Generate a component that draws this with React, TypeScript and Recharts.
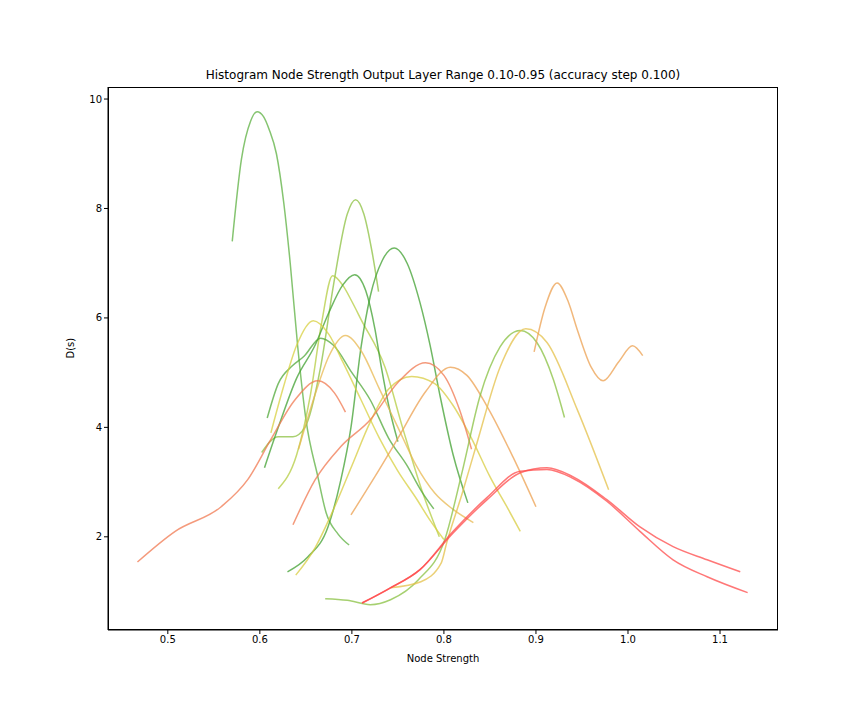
import { LineChart, Line, XAxis, YAxis, Label } from "recharts";

type Pt = { x: number; y: number };
const p = (arr: number[][]): Pt[] => arr.map(([x, y]) => ({ x, y }));

const tallGreen = p([[0.57, 7.4], [0.58, 8.9], [0.59, 9.6], [0.597, 9.77], [0.604, 9.68], [0.61, 9.45], [0.618, 9.0], [0.626, 8.1], [0.633, 7.0], [0.641, 5.5], [0.65, 4.15], [0.663, 3.1], [0.672, 2.44], [0.685, 2.05], [0.697, 1.85]]);
const lightGreen = p([[0.602, 3.54], [0.62, 3.83], [0.636, 3.83], [0.649, 4.0], [0.666, 5.1], [0.68, 6.6], [0.695, 7.9], [0.704, 8.16], [0.713, 7.9], [0.722, 7.2], [0.729, 6.48]]);
const yellowGreen = p([[0.62, 2.88], [0.64, 3.5], [0.655, 4.6], [0.667, 5.9], [0.679, 6.77], [0.69, 6.6], [0.7, 6.3], [0.71, 5.97], [0.736, 5.1], [0.755, 4.0], [0.775, 2.9], [0.795, 2.0]]);
const greenMid = p([[0.605, 3.26], [0.62, 4.0], [0.64, 4.9], [0.66, 5.5], [0.675, 6.1], [0.69, 6.6], [0.703, 6.79], [0.715, 6.5], [0.725, 5.8], [0.732, 5.1], [0.74, 4.4], [0.75, 3.74]]);
const greenTall2 = p([[0.63, 1.36], [0.652, 1.63], [0.674, 2.18], [0.688, 3.04], [0.699, 4.0], [0.71, 5.47], [0.72, 6.4], [0.733, 7.05], [0.746, 7.28], [0.76, 7.0], [0.774, 6.28], [0.785, 5.5], [0.796, 4.56], [0.81, 3.5], [0.826, 2.62]]);
const greenBump = p([[0.608, 4.17], [0.62, 4.8], [0.635, 5.12], [0.648, 5.3], [0.666, 5.63], [0.68, 5.5], [0.7, 5.0], [0.72, 4.5], [0.74, 3.8], [0.76, 3.3], [0.775, 2.85], [0.789, 2.51]]);
const yellowA = p([[0.612, 3.9], [0.625, 4.7], [0.64, 5.5], [0.658, 5.95], [0.675, 5.7], [0.69, 5.2], [0.71, 4.5], [0.73, 3.8], [0.75, 3.2], [0.77, 2.7], [0.785, 2.3], [0.8, 1.95]]);
const yellowB = p([[0.639, 1.3], [0.66, 1.8], [0.68, 2.5], [0.7, 3.3], [0.72, 4.1], [0.74, 4.7], [0.765, 4.93], [0.79, 4.8], [0.81, 4.4], [0.83, 3.8], [0.85, 3.1], [0.87, 2.5], [0.883, 2.1]]);
const tan = p([[0.642, 3.6], [0.66, 4.6], [0.675, 5.3], [0.693, 5.68], [0.71, 5.4], [0.73, 4.7], [0.75, 4.0], [0.77, 3.3], [0.79, 2.8], [0.81, 2.5], [0.832, 2.26]]);
const salmonA = p([[0.467, 1.54], [0.508, 2.1], [0.558, 2.55], [0.587, 3.05], [0.612, 3.78], [0.638, 4.5], [0.663, 4.85], [0.681, 4.63], [0.693, 4.28]]);
const salmonB = p([[0.636, 2.22], [0.66, 3.04], [0.688, 3.65], [0.72, 4.14], [0.75, 4.82], [0.78, 5.18], [0.8, 4.95], [0.817, 4.32], [0.83, 3.6]]);
const orange = p([[0.699, 2.4], [0.725, 3.1], [0.75, 3.8], [0.78, 4.65], [0.807, 5.1], [0.825, 4.95], [0.847, 4.38], [0.875, 3.46], [0.9, 2.55]]);
const greenLate = p([[0.671, 0.87], [0.695, 0.84], [0.72, 0.76], [0.742, 0.85], [0.772, 1.21], [0.801, 1.95], [0.82, 3.2], [0.839, 4.56], [0.861, 5.47], [0.883, 5.77], [0.901, 5.55], [0.919, 4.87], [0.931, 4.18]]);
const goldLate = p([[0.742, 1.07], [0.775, 1.18], [0.797, 1.52], [0.803, 1.89], [0.82, 2.8], [0.836, 3.72], [0.861, 5.1], [0.889, 5.8], [0.912, 5.55], [0.945, 4.32], [0.979, 2.86]]);
const orangeWave = p([[0.898, 5.38], [0.91, 6.2], [0.923, 6.64], [0.935, 6.3], [0.945, 5.78], [0.96, 5.1], [0.973, 4.85], [0.99, 5.2], [1.005, 5.49], [1.016, 5.31]]);
const redA = p([[0.711, 0.79], [0.74, 1.05], [0.774, 1.4], [0.81, 2.07], [0.847, 2.68], [0.883, 3.17], [0.912, 3.26], [0.94, 3.1], [0.977, 2.68], [1.013, 2.18], [1.049, 1.82], [1.086, 1.58], [1.122, 1.36]]);
const redB = p([[0.711, 0.79], [0.74, 1.05], [0.774, 1.4], [0.81, 2.1], [0.847, 2.72], [0.883, 3.2], [0.912, 3.23], [0.94, 3.07], [0.977, 2.65], [1.013, 2.1], [1.049, 1.58], [1.086, 1.27], [1.13, 0.98]]);

const series: [Pt[], string][] = [
  [tallGreen, "#5cb040"], [lightGreen, "#8cc040"], [yellowGreen, "#b4cc40"],
  [greenMid, "#40a030"], [greenTall2, "#40a030"], [greenBump, "#50a838"],
  [yellowA, "#d8d040"], [yellowB, "#d8cc40"], [tan, "#e8b850"],
  [salmonA, "#f07850"], [salmonB, "#f07850"], [orange, "#eca050"],
  [greenLate, "#88c040"], [goldLate, "#e4c048"], [orangeWave, "#eca050"],
  [redA, "#ff4a4a"], [redB, "#ff4a4a"],
];

const xTicks = [0.5, 0.6, 0.7, 0.8, 0.9, 1.0, 1.1];
const yTicks = [2, 4, 6, 8, 10];

export default function App() {
  const font = { fontFamily: "DejaVu Sans", fontSize: 10, fill: "#000" };
  return (
    <div style={{ position: "fixed", left: 0, top: 0, width: 864, height: 720, background: "#fff", fontFamily: "DejaVu Sans" }}>
      <div style={{ position: "absolute", top: 68, left: 0, width: 886, textAlign: "center", fontSize: 12 }}>
        Histogram Node Strength Output Layer Range 0.10-0.95 (accuracy step 0.100)
      </div>
      <LineChart width={864} height={720} margin={{ top: 87, right: 86, left: 58, bottom: 60 }}>
        <XAxis type="number" dataKey="x" domain={[0.435, 1.163]} ticks={xTicks} allowDataOverflow
          tick={font} tickFormatter={(v) => (v === 1 ? "1.0" : String(v))} tickSize={4} height={30}
          axisLine={{ stroke: "#000" }} tickLine={{ stroke: "#000" }}>
          <Label value="Node Strength" position="insideBottom" offset={-2} style={font} />
        </XAxis>
        <YAxis type="number" domain={[0.297, 10.22]} ticks={yTicks} allowDataOverflow width={50}
          tick={font} tickSize={4} axisLine={{ stroke: "#000" }} tickLine={{ stroke: "#000" }}>
          <Label value="D(s)" angle={-90} position="insideLeft" offset={12} style={font} />
        </YAxis>
        {series.map(([d, c], i) => (
          <Line key={i} data={d} dataKey="y" type="monotone" stroke={c} strokeOpacity={0.75}
            strokeWidth={1.5} dot={false} isAnimationActive={false} />
        ))}
      </LineChart>
      <div style={{ position: "absolute", left: 108, top: 87, width: 670, height: 543, border: "1px solid #000", boxSizing: "border-box", pointerEvents: "none" }} />
    </div>
  );
}
